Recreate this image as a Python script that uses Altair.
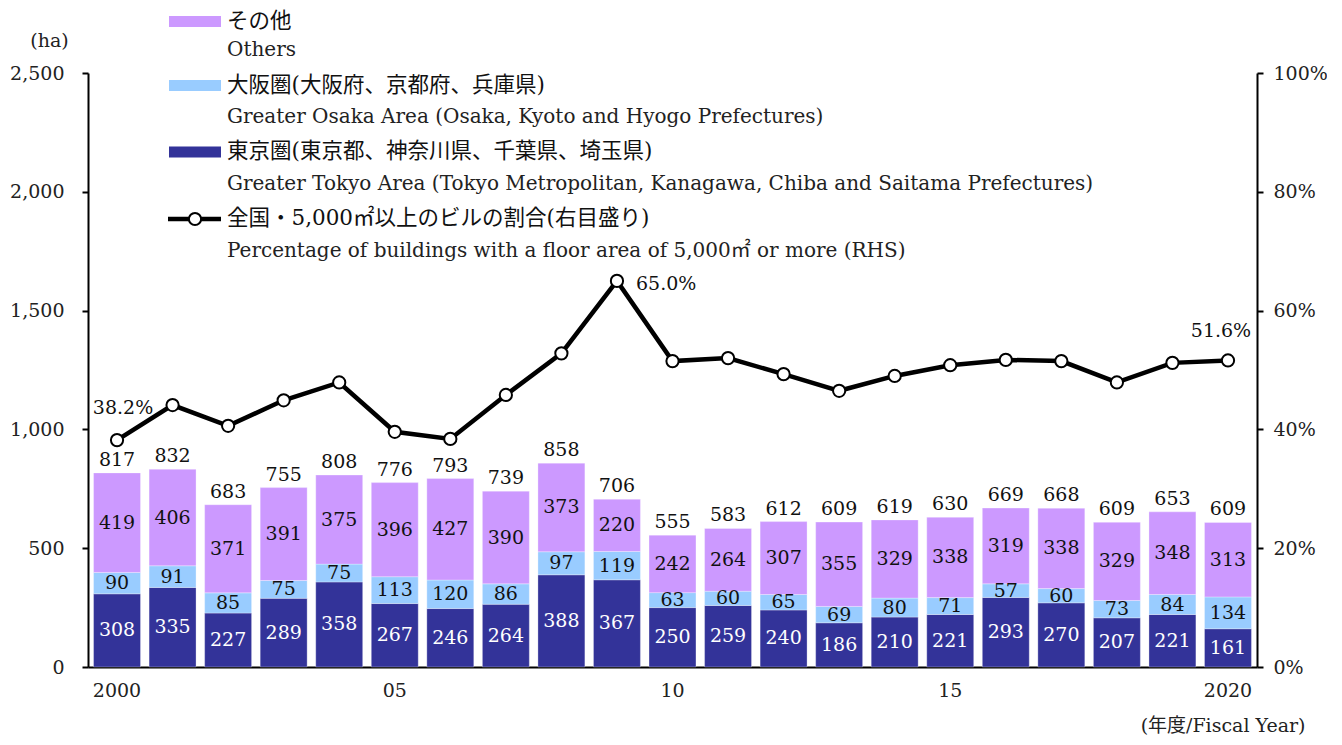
import altair as alt
import pandas as pd

years = list(range(2000, 2021))
tokyo = [308, 335, 227, 289, 358, 267, 246, 264, 388, 367, 250, 259, 240, 186, 210, 221, 293, 270, 207, 221, 161]
osaka = [90, 91, 85, 75, 75, 113, 120, 86, 97, 119, 63, 60, 65, 69, 80, 71, 57, 60, 73, 84, 134]
others = [419, 406, 371, 391, 375, 396, 427, 390, 373, 220, 242, 264, 307, 355, 329, 338, 319, 338, 329, 348, 313]
totals = [817, 832, 683, 755, 808, 776, 793, 739, 858, 706, 555, 583, 612, 609, 619, 630, 669, 668, 609, 653, 609]
pct = [38.2, 44.1, 40.6, 44.9, 47.9, 39.6, 38.4, 45.8, 52.8, 65.0, 51.5, 52.0, 49.3, 46.5, 49.0, 50.8, 51.7, 51.5, 47.9, 51.2, 51.6]

series_keys = ["tokyo", "osaka", "others"]
series_colors = ["#333399", "#99CCFF", "#CC99FF"]

legend_jp = ["その他", "大阪圏(大阪府、京都府、兵庫県)", "東京圏(東京都、神奈川県、千葉県、埼玉県)",
             "全国・5,000㎡以上のビルの割合(右目盛り)"]
legend_en = ["Others", "Greater Osaka Area (Osaka, Kyoto and Hyogo Prefectures)",
             "Greater Tokyo Area (Tokyo Metropolitan, Kanagawa, Chiba and Saitama Prefectures)",
             "Percentage of buildings with a floor area of 5,000㎡ or more (RHS)"]
legend_colors = ["#CC99FF", "#99CCFF", "#333399"]

FONT = "'DejaVu Serif', 'Noto Sans CJK JP', serif"
FS = 19

rows = []
for i, y in enumerate(years):
    rows.append({"year": y, "series": "tokyo", "order": 0, "value": tokyo[i]})
    rows.append({"year": y, "series": "osaka", "order": 1, "value": osaka[i]})
    rows.append({"year": y, "series": "others", "order": 2, "value": others[i]})
df = pd.DataFrame(rows)
df_tot = pd.DataFrame({"year": years, "total": totals})
df_pct = pd.DataFrame({"year": years, "pct": pct})

xscale = alt.Scale(paddingInner=0.155, paddingOuter=0.1)
yscale = alt.Scale(domain=[0, 2500], nice=False)
pscale = alt.Scale(domain=[0, 100], nice=False)

x_axis = alt.Axis(
    title="(年度/Fiscal Year)", titleX=1217, titleY=58, titleAlign="right", titleBaseline="middle",
    titleFontWeight="normal", titleFontSize=FS, titleFont=FONT, titleColor="#222",
    labelExpr="datum.value % 5 != 0 ? '' : ((datum.value == 2000 || datum.value == 2020) ? toString(datum.value) : slice(toString(datum.value), 2))",
    labelAngle=0, ticks=False, labelPadding=14, domainColor="black", domainWidth=2,
    labelFont=FONT, labelFontSize=FS, labelColor="#222",
)

y_axis = alt.Axis(
    title="(ha)", titleAngle=0, titleX=-39, titleY=-33, titleAlign="center", titleBaseline="middle",
    titleFontWeight="normal", titleFont=FONT, titleFontSize=FS, titleColor="#222",
    values=[0, 500, 1000, 1500, 2000, 2500], labelExpr="format(datum.value, ',')",
    tickSize=6, tickColor="black", tickWidth=2,
    domainColor="black", domainWidth=2, labelPadding=18, grid=False,
    labelFont=FONT, labelFontSize=FS, labelColor="#222",
)

p_axis = alt.Axis(
    title="", orient="right", values=[0, 20, 40, 60, 80, 100], labelExpr="datum.value + '%'",
    tickSize=6, tickColor="black", tickWidth=2, domainColor="black", domainWidth=2, labelPadding=10,
    grid=False, labelFont=FONT, labelFontSize=FS, labelColor="#222",
)

X = alt.X("year:O", scale=xscale, axis=x_axis)

bars = alt.Chart(df).mark_bar(stroke="white", strokeWidth=0.6, strokeOpacity=0.5).encode(
    x=X,
    y=alt.Y("value:Q", stack="zero", scale=yscale, axis=y_axis),
    color=alt.Color("series:N", scale=alt.Scale(domain=series_keys, range=series_colors), legend=None),
    order=alt.Order("order:Q"),
)

stacked = alt.Chart(df).transform_stack(
    stack="value", groupby=["year"], sort=[alt.SortField("order", order="ascending")], as_=["v0", "v1"]
).transform_calculate(mid="(datum.v0 + datum.v1) / 2")

seg_tokyo = stacked.transform_filter("datum.series == 'tokyo'").mark_text(
    font=FONT, fontSize=FS, color="white", baseline="middle"
).encode(
    x=X,
    y=alt.Y("mid:Q", scale=yscale, axis=y_axis),
    text=alt.Text("value:Q"),
)
seg_other = stacked.transform_filter("datum.series != 'tokyo'").mark_text(
    font=FONT, fontSize=FS, color="#111", baseline="middle"
).encode(
    x=X,
    y=alt.Y("mid:Q", scale=yscale, axis=y_axis),
    text=alt.Text("value:Q"),
)
tot_text = alt.Chart(df_tot).mark_text(
    font=FONT, fontSize=FS, color="#111", baseline="bottom", dy=-3
).encode(
    x=X,
    y=alt.Y("total:Q", scale=yscale, axis=y_axis),
    text=alt.Text("total:Q"),
)

left = alt.layer(bars, seg_tokyo, seg_other, tot_text)

line = alt.Chart(df_pct).mark_line(color="black", strokeWidth=4.5).encode(
    x=X,
    y=alt.Y("pct:Q", scale=pscale, axis=p_axis),
)
pts = alt.Chart(df_pct).mark_point(
    filled=True, fill="white", stroke="black", strokeWidth=2, size=150, opacity=1
).encode(
    x=X,
    y=alt.Y("pct:Q", scale=pscale, axis=p_axis),
)

def pct_label(year, dx, dy, align):
    return alt.Chart(df_pct).transform_filter(f"datum.year == {year}").transform_calculate(
        lab="format(datum.pct, '.1f') + '%'"
    ).mark_text(font=FONT, fontSize=FS, color="#111", align=align, baseline="middle", dx=dx, dy=dy).encode(
        x=X,
        y=alt.Y("pct:Q", scale=pscale, axis=p_axis),
        text="lab:N",
    )

right = alt.layer(line, pts, pct_label(2000, 6, -32, "center"), pct_label(2009, 19, 3, "left"),
                  pct_label(2020, -7, -29, "center"))

# legend (hand-built, placed above / inside the plot area)
one = pd.DataFrame({"k": [0]})
leg_layers = []
jp_y = [-51.5, 12.5, 79, 146]
en_y = [-23, 44, 111, 178]
for i in range(4):
    leg_layers.append(alt.Chart(one).mark_text(
        font=FONT, fontSize=21.5, color="#111", align="left", baseline="middle"
    ).encode(x=alt.value(139), y=alt.value(jp_y[i]), text=alt.value(legend_jp[i])))
    leg_layers.append(alt.Chart(one).mark_text(
        font=FONT, fontSize=20, color="#222", align="left", baseline="middle"
    ).encode(x=alt.value(139), y=alt.value(en_y[i]), text=alt.value(legend_en[i])))
    if i < 3:
        leg_layers.append(alt.Chart(one).mark_rect(color=legend_colors[i]).encode(
            x=alt.value(81), x2=alt.value(133), y=alt.value(jp_y[i] - 5.5), y2=alt.value(jp_y[i] + 5.5)))
leg_layers.append(alt.Chart(one).mark_rule(color="black", strokeWidth=4.5).encode(
    x=alt.value(80), x2=alt.value(133), y=alt.value(jp_y[3])))
leg_layers.append(alt.Chart(one).mark_point(
    filled=True, fill="white", stroke="black", strokeWidth=2, size=150, opacity=1
).encode(x=alt.value(107), y=alt.value(jp_y[3])))

chart = alt.layer(left, right, *leg_layers).resolve_scale(y="independent").properties(
    width=1169, height=594,
    padding={"left": 80, "top": 65, "right": 70, "bottom": 70},
    autosize=alt.AutoSizeParams(type="none"),
).configure(font=FONT).configure_view(stroke=None)

chart.save("out.html", embed_options={"renderer": "svg", "actions": False})
